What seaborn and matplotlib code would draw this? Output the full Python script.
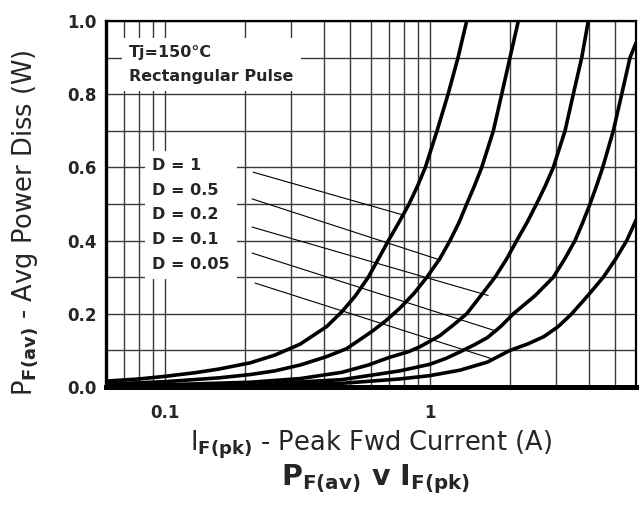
import numpy as np
import pandas as pd
import seaborn as sns
import matplotlib
matplotlib.use("Agg")
import matplotlib.pyplot as plt
from matplotlib.ticker import FixedLocator, NullFormatter, FixedFormatter

# ---------------- data ----------------
duty_labels = ["D = 1", "D = 0.5", "D = 0.2", "D = 0.1", "D = 0.05"]

i_d1 = [0.06, 0.08, 0.10, 0.13, 0.16, 0.21, 0.26, 0.324, 0.408, 0.465, 0.525,
        0.586, 0.64, 0.698, 0.765, 0.835, 0.90, 0.962, 1.065, 1.172, 1.278, 1.378]
p_d1 = [0.016, 0.022, 0.029, 0.039, 0.049, 0.066, 0.087, 0.117, 0.165, 0.205, 0.25,
        0.30, 0.35, 0.40, 0.45, 0.50, 0.55, 0.60, 0.70, 0.80, 0.90, 1.00]

i_d05 = [0.06, 0.10, 0.16, 0.21, 0.26, 0.324, 0.408, 0.486, 0.60, 0.68, 0.77,
         0.87, 0.975, 1.09, 1.192, 1.29, 1.378, 1.475, 1.57, 1.737, 1.868, 2.007, 2.158]
p_d05 = [0.008, 0.0145, 0.025, 0.034, 0.044, 0.06, 0.083, 0.105, 0.15, 0.18, 0.215,
         0.255, 0.30, 0.35, 0.40, 0.45, 0.50, 0.55, 0.60, 0.70, 0.80, 0.90, 1.00]

i_d02 = [0.06, 0.10, 0.21, 0.324, 0.465, 0.586, 0.698, 0.835, 0.918, 1.09, 1.23,
         1.378, 1.56, 1.763, 1.95, 2.128, 2.33, 2.527, 2.73, 2.925, 3.238, 3.479, 3.744, 3.963]
p_d02 = [0.003, 0.006, 0.013, 0.023, 0.04, 0.06, 0.08, 0.097, 0.11, 0.14, 0.17,
         0.20, 0.25, 0.30, 0.35, 0.40, 0.45, 0.50, 0.55, 0.60, 0.70, 0.80, 0.90, 1.00]

i_d01 = [0.06, 0.10, 0.21, 0.465, 0.77, 1.0, 1.15, 1.30, 1.47, 1.65, 1.85, 2.067,
         2.5, 2.925, 3.23, 3.532, 3.78, 4.023, 4.26, 4.493, 4.926, 5.299, 5.695, 6.0]
p_d01 = [0.0016, 0.003, 0.0066, 0.02, 0.044, 0.062, 0.078, 0.096, 0.115, 0.135, 0.165, 0.20,
         0.25, 0.30, 0.35, 0.40, 0.45, 0.50, 0.55, 0.60, 0.70, 0.80, 0.90, 0.94]

i_d005 = [0.06, 0.10, 0.21, 0.465, 0.77, 1.0, 1.30, 1.65, 2.007, 2.35, 2.70,
          3.05, 3.433, 3.95, 4.517, 5.03, 5.535, 6.0]
p_d005 = [0.0008, 0.0015, 0.0033, 0.01, 0.022, 0.031, 0.046, 0.068, 0.10, 0.118, 0.138,
          0.165, 0.20, 0.25, 0.30, 0.35, 0.40, 0.456]

# leader lines from duty-cycle labels to the curves
leader_x0 = [0.2153, 0.2134, 0.2134, 0.2134, 0.219]
leader_y0 = [0.587, 0.514, 0.437, 0.366, 0.284]
leader_x1 = [0.793, 1.093, 1.66, 1.794, 1.70]
leader_y1 = [0.470, 0.347, 0.25, 0.152, 0.078]

y_ticks = [0.0, 0.2, 0.4, 0.6, 0.8, 1.0]
y_tick_labels = ["0.0", "0.2", "0.4", "0.6", "0.8", "1.0"]
x_major = [0.1, 1.0]
x_major_labels = ["0.1", "1"]
x_minor = [0.06, 0.07, 0.08, 0.09, 0.2, 0.3, 0.4, 0.5, 0.6, 0.7, 0.8, 0.9,
           2, 3, 4, 5, 6]
y_grid = [0.1, 0.2, 0.3, 0.4, 0.5, 0.6, 0.7, 0.8, 0.9]

# ---------------- build table ----------------
frames = []
for lab, ii, pp in zip(duty_labels,
                       [i_d1, i_d05, i_d02, i_d01, i_d005],
                       [p_d1, p_d05, p_d02, p_d01, p_d005]):
    frames.append(pd.DataFrame({"I": ii, "P": pp, "D": lab}))
df = pd.concat(frames, ignore_index=True)

# ---------------- figure ----------------
sns.set_style("white")
plt.rcParams["font.family"] = ["DejaVu Sans"]
plt.rcParams["mathtext.fontset"] = "dejavusans"

fig = plt.figure(figsize=(6.44, 5.08), dpi=100)
ax = fig.add_axes([0.1646, 0.2382, 0.8230, 0.7205])

sns.lineplot(data=df, x="I", y="P", hue="D", units="D", estimator=None,
             sort=False, palette=["black"] * 5, linewidth=2.6,
             legend=False, ax=ax, zorder=4)
for ln in ax.get_lines():
    ln.set_solid_joinstyle("round")
    ln.set_solid_capstyle("round")

for x0, y0, x1, y1 in zip(leader_x0, leader_y0, leader_x1, leader_y1):
    ax.plot([x0, x1], [y0, y1], color="black", lw=0.8, zorder=3)

ax.set_xscale("log")
ax.set_xlim(0.06, 6.0)
ax.set_ylim(0.0, 1.0)

ax.xaxis.set_major_locator(FixedLocator(x_major))
ax.xaxis.set_major_formatter(FixedFormatter(x_major_labels))
ax.xaxis.set_minor_locator(FixedLocator(x_minor))
ax.xaxis.set_minor_formatter(NullFormatter())
ax.yaxis.set_major_locator(FixedLocator(y_ticks))
ax.yaxis.set_major_formatter(FixedFormatter(y_tick_labels))
ax.yaxis.set_minor_locator(FixedLocator(y_grid))

ax.grid(which="both", axis="both", color="#3a3a3a", lw=1.0)
ax.set_axisbelow(True)

ax.tick_params(axis="x", which="both", length=0, pad=12, labelsize=12)
ax.tick_params(axis="y", which="major", direction="inout", length=10,
               width=1.2, labelsize=12, pad=2)
ax.tick_params(axis="y", which="minor", length=0)
for lbl in ax.get_xticklabels() + ax.get_yticklabels():
    lbl.set_fontweight("bold")

for side, lw in [("left", 2.4), ("bottom", 3.6), ("top", 1.6), ("right", 1.6)]:
    ax.spines[side].set_visible(True)
    ax.spines[side].set_color("black")
    ax.spines[side].set_linewidth(lw)

# annotations
ax.text(0.0733, 0.935, "Tj=150°C\nRectangular Pulse", fontsize=11.5,
        fontweight="bold", va="top", ha="left", linespacing=1.75,
        bbox=dict(boxstyle="square,pad=0.45", fc="white", ec="none"), zorder=5)
ax.text(0.0894, 0.625, "\n".join(duty_labels), fontsize=11.5,
        fontweight="bold", va="top", ha="left", linespacing=1.8,
        bbox=dict(boxstyle="square,pad=0.45", fc="white", ec="none"), zorder=5)

ax.set_xlabel(r"$\mathrm{I}_{\mathbf{F(pk)}}$ - Peak Fwd Current (A)",
              fontsize=18.5, labelpad=5)
ax.set_ylabel(r"$\mathrm{P}_{\mathbf{F(av)}}$ - Avg Power Diss (W)",
              fontsize=18.5, labelpad=4)
ax.yaxis.set_label_coords(-0.125, 0.45)

fig.text(0.583, 0.056, r"$\mathbf{P}_{\mathbf{F(av)}}$ v $\mathbf{I}_{\mathbf{F(pk)}}$",
         fontsize=20.5, fontweight="bold", ha="center", va="center")

fig.savefig("out.png", dpi=100)
